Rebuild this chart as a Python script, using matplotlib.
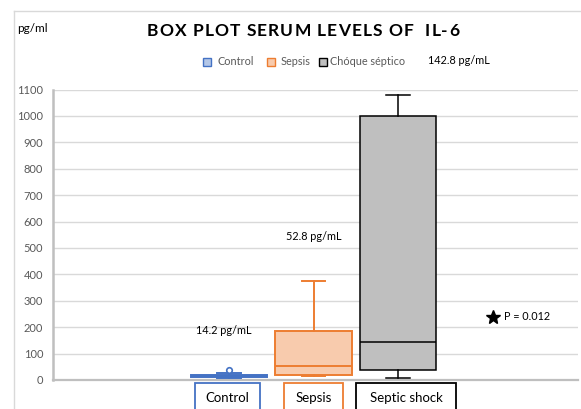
import matplotlib
matplotlib.use("Agg")
import matplotlib.pyplot as plt
from matplotlib.patches import Rectangle
from matplotlib.lines import Line2D
from matplotlib.font_manager import FontProperties

# ---- data (pg/mL) ----
groups = ["Control", "Sepsis", "Septic shock"]
legend_names = ["Control", "Sepsis", "Chóque séptico"]
whisker_low = [6, 14, 8]
q1 = [13, 18, 36]
medians = [14.2, 52.8, 142.8]
q3 = [18, 185, 1000]
whisker_high = [28, 376, 1080]
outliers = [[38], [], []]
y_ticks = [0, 100, 200, 300, 400, 500, 600, 700, 800, 900, 1000, 1100]
median_labels = ["14.2 pg/mL", "52.8 pg/mL", "142.8 pg/mL"]
p_value = "P = 0.012"

edge_colors = ["#4472C4", "#ED7D31", "#000000"]
fill_colors = ["#B4C7E7", "#F8CBAD", "#BFBFBF"]

W, H = 581, 409
FONT = "Lato"
plt.rcParams["font.family"] = [FONT, "DejaVu Sans"]

fig = plt.figure(figsize=(W / 100, H / 100), dpi=100)


def fx(px):
    return px / W


def fy(py):
    return 1 - py / H


def ftext(x, y, s, **kw):
    kw.setdefault("va", "center")
    kw.setdefault("ha", "left")
    return fig.text(fx(x), fy(y), s, **kw)


# outer frame
fig.add_artist(Line2D([fx(13.5), fx(13.5)], [fy(11), fy(H + 5)], color="#D9D9D9", lw=1.0))
fig.add_artist(Line2D([fx(13.5), fx(W + 5)], [fy(11), fy(11)], color="#D9D9D9", lw=1.0))

# ---- axes ----
ax_left, ax_right, ax_top, ax_bottom = 53, 578, 89.5, 380
ax = fig.add_axes([fx(ax_left), fy(ax_bottom), (ax_right - ax_left) / W,
                   (ax_bottom - ax_top) / H])
positions = [1, 2, 3]
px_per_unit = 84.5
x0 = 1 - (229 - ax_left) / px_per_unit
ax.set_xlim(x0, x0 + (ax_right - ax_left) / px_per_unit)
ax.set_ylim(0, 1100)

stats = []
for i, g in enumerate(groups):
    stats.append(dict(label=g, whislo=whisker_low[i], q1=q1[i], med=medians[i],
                      q3=q3[i], whishi=whisker_high[i], fliers=outliers[i]))

for i, st in enumerate(stats):
    ec, fc = edge_colors[i], fill_colors[i]
    lw = 1.4 if i < 2 else 1.1
    ax.bxp([st], positions=[positions[i]], widths=0.91, patch_artist=True,
           showfliers=True,
           boxprops=dict(facecolor=fc, edgecolor=ec, linewidth=lw),
           medianprops=dict(color=ec, linewidth=lw),
           whiskerprops=dict(color=ec, linewidth=lw),
           capprops=dict(color=ec, linewidth=lw),
           capwidths=0.28,
           flierprops=dict(marker="o", markersize=4, markerfacecolor="white",
                           markeredgecolor=ec, markeredgewidth=1.2),
           zorder=3)

ax.set_yticks(y_ticks)
ax.set_yticklabels([str(v) for v in y_ticks], fontsize=8, color="#595959")
ax.set_xticks([])
ax.tick_params(axis="y", length=0, pad=7)
ax.grid(axis="y", color="#D9D9D9", lw=1.0, zorder=0)
ax.set_axisbelow(True)
for s in ["top", "right", "bottom"]:
    ax.spines[s].set_visible(False)
ax.spines["left"].set_color("#BFBFBF")
ax.spines["left"].set_linewidth(1.8)
ax.axhline(0, color="#BFBFBF", lw=1.6, zorder=1, clip_on=False)

# ---- title with letter spacing ----
title = "BOX PLOT SERUM LEVELS OF  IL-6"
t_left, t_right, t_y = 147, 459, 30.5
renderer = fig.canvas.get_renderer()
tprop = FontProperties(family=FONT, weight="bold", size=12.5)


def text_w(s):
    w, _, _ = renderer.get_text_width_height_descent(s, tprop, ismath=False)
    return w


starts = []
for i, ch in enumerate(title):
    starts.append(text_w(title[:i + 1]) - text_w(ch) if ch != " " else None)
natural = text_w(title)
tracking = (t_right - t_left - natural) / (len(title) - 1)
for i, ch in enumerate(title):
    if ch == " ":
        continue
    ftext(t_left + starts[i] + i * tracking, t_y, ch, fontproperties=tprop,
          color="#000000")

ftext(17, 28, "pg/ml", fontsize=8.5, color="#000000")

# ---- legend ----
leg_sq = [(203, 217), (267, 281), (319, 330)]
for i, name in enumerate(legend_names):
    sx, tx = leg_sq[i]
    fig.add_artist(Rectangle((fx(sx), fy(65.5)), 8 / W, 8 / H, transform=fig.transFigure,
                             facecolor=fill_colors[i], edgecolor=edge_colors[i], lw=1.0))
    ftext(tx, 61.5, name, fontsize=7.8, color="#595959")

# ---- annotations ----
ftext(428, 60.5, median_labels[2], fontsize=7.8, color="#000000")
ftext(286, 236, median_labels[1], fontsize=7.8, color="#000000")
ftext(196, 331, median_labels[0], fontsize=7.8, color="#000000")
fig.add_artist(Line2D([fx(493)], [fy(317)], marker="*", markersize=10,
                      color="black", transform=fig.transFigure))
ftext(504, 316.5, p_value, fontsize=7.8, color="#000000")

# ---- category label boxes ----
cat_boxes = [(195, 260), (284, 343), (356, 456)]
for i, g in enumerate(groups):
    l, r = cat_boxes[i]
    fig.add_artist(Rectangle((fx(l), fy(H + 5)), (r - l) / W, (H + 5 - 383) / H,
                             transform=fig.transFigure, facecolor="white",
                             edgecolor=edge_colors[i], lw=1.3))
    ftext((l + r) / 2, 397.5, g, fontsize=9.5, ha="center", color="#000000")

fig.savefig("out.png", dpi=100)
